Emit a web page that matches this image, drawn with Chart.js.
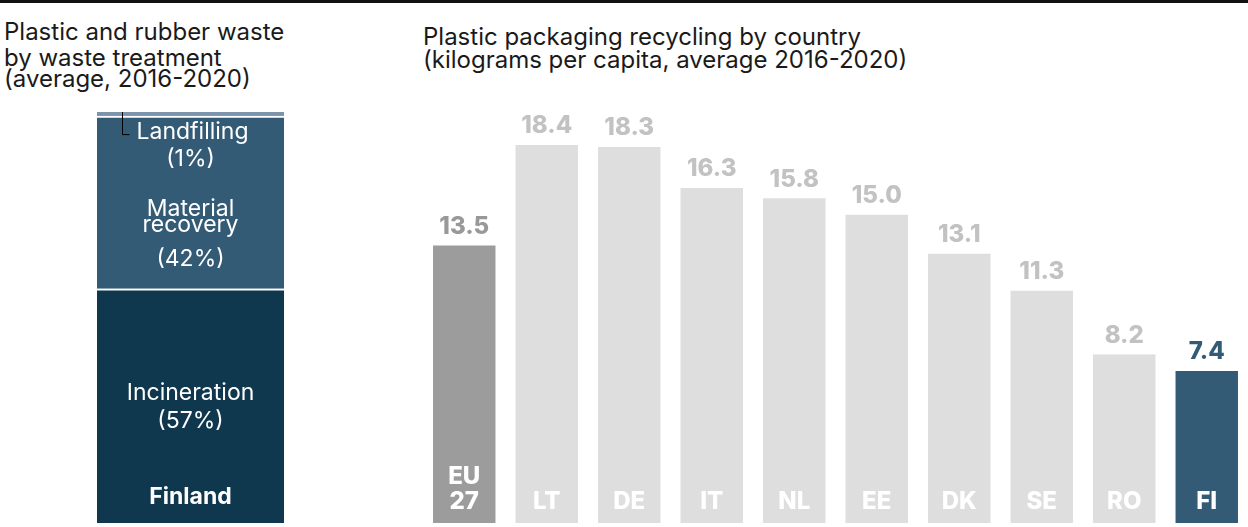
<!DOCTYPE html>
<html>
<head>
<meta charset="utf-8">
<script src="https://cdn.jsdelivr.net/npm/chart.js@4.4.1/dist/chart.umd.min.js"></script>
<style>
  body { margin: 0; background: #fff; width: 1248px; height: 527px; overflow: hidden; position: relative; font-family: Inter, sans-serif; }
  .rule { position: absolute; left: 0; top: 0; width: 1248px; height: 3px; background: #111; }
  .t { position: absolute; font-size: 24px; color: #1a1a1a; white-space: nowrap; line-height: 1; }
  canvas { position: absolute; }
</style>
</head>
<body>
<div class="rule"></div>
<div class="t" style="left:4px;top:20px">Plastic and rubber waste</div>
<div class="t" style="left:4px;top:46px">by waste treatment</div>
<div class="t" style="left:4px;top:67px">(average, 2016-2020)</div>
<div class="t" style="left:423px;top:25px">Plastic packaging recycling by country</div>
<div class="t" style="left:423px;top:48px">(kilograms per capita, average 2016-2020)</div>

<canvas id="treatChart" width="187" height="433" style="left:97px;top:90px"></canvas>
<canvas id="countryChart" width="825" height="433" style="left:423px;top:90px"></canvas>

<script>
// waste treatment shares for Finland (%)
const treatLabels = ['Incineration', 'Material recovery', 'Landfilling'];
const treatValues = [57, 42, 1];

// plastic packaging recycling, kg per capita
const countries = ['EU 27', 'LT', 'DE', 'IT', 'NL', 'EE', 'DK', 'SE', 'RO', 'FI'];
const recycling = [13.5, 18.4, 18.3, 16.3, 15.8, 15.0, 13.1, 11.3, 8.2, 7.4];
const yTicks = [0, 20];

const labelFont = '"Inter", sans-serif';

// ---- left: stacked bar ----
const treatColors = ['#0f384f', '#345b75', '#7b94ac'];

const treatPlugin = {
    id: 'treatLabels',
    afterDatasetsDraw(chart) {
        const ctx = chart.ctx;
        const inc = chart.getDatasetMeta(0).data[0];
        const mat = chart.getDatasetMeta(1).data[0];
        const land = chart.getDatasetMeta(2).data[0];
        const cx = inc.x;

        ctx.save();
        ctx.fillStyle = '#fff';
        ctx.textAlign = 'center';
        ctx.textBaseline = 'middle';
        ctx.font = '23px ' + labelFont;

        ctx.fillText(treatLabels[2], cx + 2, mat.y + 16);
        ctx.fillText('(' + treatValues[2] + '%)', cx, mat.y + 43);
        ctx.fillText('Material', cx, mat.y + 93);
        ctx.fillText('recovery', cx, mat.y + 109);
        ctx.fillText('(' + treatValues[1] + '%)', cx, mat.y + 143);

        const midInc = (inc.y + inc.base) / 2;
        ctx.fillText(treatLabels[0], cx, midInc - 13);
        ctx.fillText('(' + treatValues[0] + '%)', cx, midInc + 15);

        ctx.font = 'bold 23px ' + labelFont;
        ctx.fillText('Finland', cx, inc.base - 26);

        // leader line for the thin landfilling slice
        const lx = chart.chartArea.left + 25.5;
        ctx.strokeStyle = '#000';
        ctx.lineWidth = 1;
        ctx.beginPath();
        ctx.moveTo(lx, land.y);
        ctx.lineTo(lx, mat.y + 18.5);
        ctx.lineTo(lx + 7, mat.y + 18.5);
        ctx.stroke();
        ctx.restore();
    }
};

new Chart(document.getElementById('treatChart'), {
    type: 'bar',
    data: {
        labels: ['Finland'],
        datasets: treatLabels.map((name, i) => ({
            label: name,
            data: [treatValues[i]],
            backgroundColor: treatColors[i],
            borderColor: '#fff',
            borderWidth: i === 2 ? 0 : { top: 2, left: 0, right: 0, bottom: 0 },
            borderSkipped: false,
            barPercentage: 1,
            categoryPercentage: 1
        }))
    },
    options: {
        responsive: false,
        animation: false,
        layout: { padding: { top: 22, left: 0, right: 0, bottom: 0 } },
        scales: {
            x: { stacked: true, display: false },
            y: { stacked: true, display: false, min: 0, max: 100 }
        },
        plugins: { legend: { display: false }, tooltip: { enabled: false } }
    },
    plugins: [treatPlugin]
});

// ---- right: country bars ----
const barColors = countries.map(c => c === 'EU 27' ? '#9c9c9c' : (c === 'FI' ? '#345b75' : '#dedede'));
const valueColors = countries.map(c => c === 'EU 27' ? '#999999' : (c === 'FI' ? '#345b75' : '#c2c2c2'));

const countryPlugin = {
    id: 'countryLabels',
    afterDatasetsDraw(chart) {
        const ctx = chart.ctx;
        const meta = chart.getDatasetMeta(0);
        ctx.save();
        ctx.textAlign = 'center';
        ctx.textBaseline = 'middle';
        ctx.font = '800 24px ' + labelFont;
        meta.data.forEach((bar, i) => {
            ctx.fillStyle = valueColors[i];
            ctx.fillText(recycling[i].toFixed(1), bar.x, bar.y - 19);

            ctx.fillStyle = '#fff';
            const lines = countries[i].split(' ');
            lines.forEach((line, j) => {
                ctx.fillText(line, bar.x, bar.base - 21 - (lines.length - 1 - j) * 25);
            });
        });
        ctx.restore();
    }
};

new Chart(document.getElementById('countryChart'), {
    type: 'bar',
    data: {
        labels: countries,
        datasets: [{
            label: 'kg per capita',
            data: recycling,
            backgroundColor: barColors,
            borderWidth: 0,
            barPercentage: 0.757,
            categoryPercentage: 1
        }]
    },
    options: {
        responsive: false,
        animation: false,
        layout: { padding: { top: 22, left: 0, right: 0, bottom: 0 } },
        scales: {
            x: { display: false },
            y: { display: false, min: yTicks[0], max: yTicks[1] }
        },
        plugins: { legend: { display: false }, tooltip: { enabled: false } }
    },
    plugins: [countryPlugin]
});
</script>
</body>
</html>
